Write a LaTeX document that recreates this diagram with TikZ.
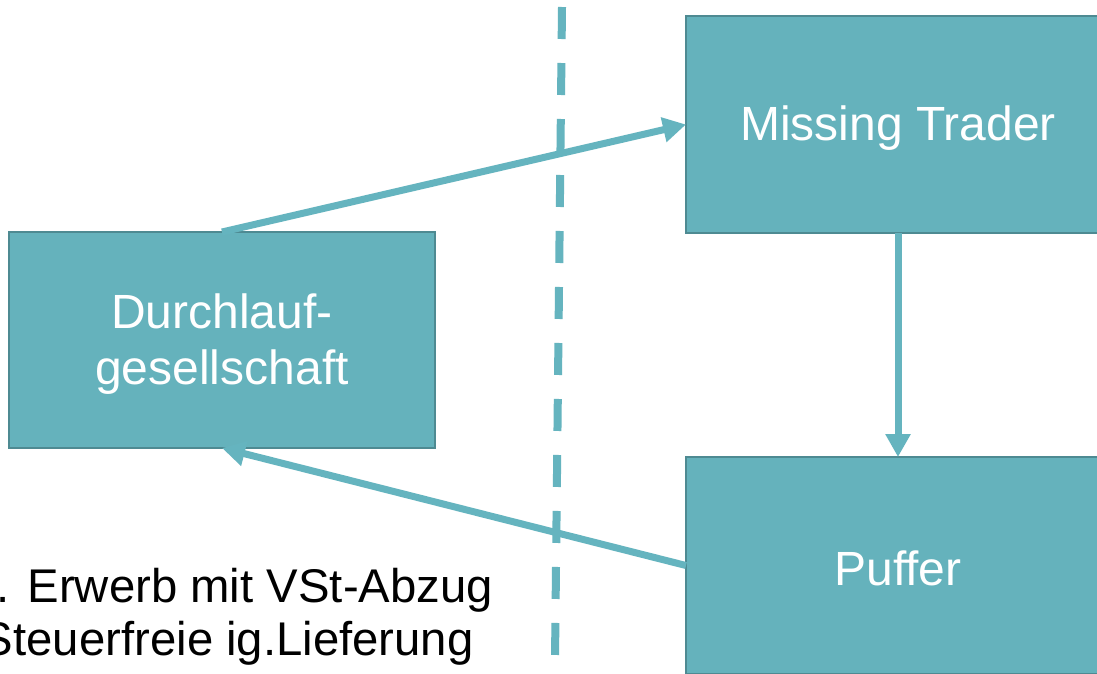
\documentclass[tikz,border=0pt]{standalone}
\usepackage{fontspec}
\setmainfont{Liberation Sans}
\usetikzlibrary{arrows.meta}
\definecolor{tealfill}{HTML}{65B2BC}
\definecolor{tealedge}{HTML}{4E8A92}
\definecolor{tealline}{HTML}{65B4BF}
\tikzset{
  box/.style={draw=tealedge, line width=2pt, fill=tealfill, inner sep=0pt, outer sep=0pt},
  boxtext/.style={text=white, align=center, inner sep=0pt, font=\fontsize{48}{56}\selectfont},
  conn/.style={draw=tealline, line width=7pt, -{Triangle[width=24pt,length=23pt]}},
  divider/.style={draw=tealline, line width=8pt, dash pattern=on 32pt off 24pt},
  note/.style={inner sep=0pt, outer sep=0pt, anchor=base west, font=\fontsize{47.3}{55}\selectfont}
}
\begin{document}
\begin{tikzpicture}[x=1pt,y=-1pt]
\useasboundingbox (0,0) rectangle (1097,673);
\fill[white] (0,0) rectangle (1097,673);
\coordinate (dtop) at (562,7);
\coordinate (dbot) at (555,660);
\draw[divider] (dtop) -- (dbot);
\node[box, minimum width=424pt, minimum height=217pt] (mt) at (898,124.5) {};
\node[box, minimum width=426pt, minimum height=216pt] (dg) at (222,340) {};
\node[box, minimum width=424pt, minimum height=217pt] (pf) at (898,565.5) {};
\node[boxtext] (mtl) at (898,128) {Missing Trader};
\node[boxtext] (dgl) at (222,344) {Durchlauf-\\gesellschaft};
\node[boxtext] (pfl) at (898,568) {Puffer};
\draw[conn] (dg.north) -- (mt.west);
\draw[conn] (mt.south) -- (pf.north);
\draw[conn] (pf.west) -- (dg.south);
\node[note] (t1) at (-3,602) {. Erwerb mit VSt-Abzug};
\node[note] (t2) at (-18,655) {Steuerfreie ig.Lieferung};
\end{tikzpicture}
\end{document}
